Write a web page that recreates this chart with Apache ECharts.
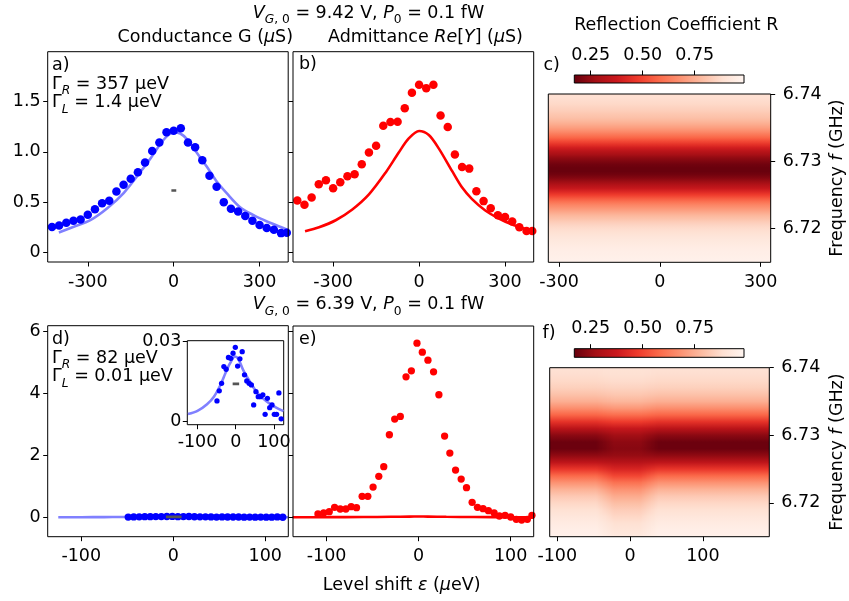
<!DOCTYPE html>
<html><head><meta charset="utf-8">
<script src="https://cdn.jsdelivr.net/npm/echarts@6/dist/echarts.min.js"></script>
<style>html,body{margin:0;padding:0;background:#fff}#c{width:849px;height:601px}</style>
</head><body><div id="c"></div>
<script>
// ---------------- data ----------------
// panels a) and b): level shift grid (ueV)
const epsAB = [-425,-400,-375,-350,-325,-300,-275,-250,-225,-200,-175,-150,-125,-100,-75,-50,-25,0,25,50,75,100,125,150,175,200,225,250,275,300,325,350,375,395];
// a) conductance G (uS)
const gA = [0.252,0.268,0.295,0.315,0.328,0.374,0.430,0.490,0.513,0.606,0.672,0.732,0.798,0.894,1.007,1.093,1.195,1.209,1.235,1.093,1.046,0.917,0.762,0.652,0.500,0.434,0.407,0.361,0.315,0.272,0.242,0.225,0.192,0.195];
// b) admittance Re[Y] (uS)
const reB = [0.517,0.473,0.547,0.677,0.717,0.637,0.697,0.757,0.777,0.877,0.993,1.060,1.260,1.297,1.300,1.433,1.587,1.667,1.633,1.667,1.360,1.247,0.973,0.850,0.833,0.607,0.510,0.440,0.370,0.353,0.307,0.250,0.213,0.213];
// a) fit curve
const fitEpsA = [-401,-349,-291,-233,-174,-116,-81,-47,-23,0,23,47,81,116,151,186,233,279,326,372,401];
const fitGA = [0.199,0.255,0.321,0.437,0.593,0.801,0.934,1.076,1.156,1.192,1.182,1.123,0.990,0.851,0.702,0.586,0.447,0.371,0.308,0.255,0.222];
// b) fit curve
const fitEpsB = [-398,-349,-291,-233,-175,-117,-71,-36,0,34,68,115,149,184,230,277,323,370,398];
const fitReB = [0.210,0.250,0.320,0.427,0.577,0.793,0.993,1.133,1.207,1.167,1.037,0.810,0.650,0.533,0.420,0.340,0.280,0.233,0.207];
// grey resolution dash
const dashEps = [-8, 9];
const dashGA = 0.616;
const dashGD = 0.0139;

// panels d) and e)
const epsD = [-49,-43,-37,-31,-25,-19,-13,-7,-1,5,11,17,23,29,35,41,47,53,59,65,71,77,83,89,95,101,107,113,119];
const gD = [0.0075,0.0113,0.0141,0.0204,0.0194,0.0238,0.0235,0.0254,0.0276,0.0206,0.0233,0.0260,0.0173,0.0150,0.0141,0.0135,0.0060,0.0110,0.0091,0.0091,0.0098,0.0025,0.0085,0.0050,0.0060,0.0025,0.0025,0.0105,0.0008];
const fitEpsD = [-125,-100,-75,-57,-40,-27,-15,-2,7,20,37,54,71,88,106,125];
const fitGD = [0.0026,0.0038,0.0063,0.0091,0.0135,0.0179,0.0216,0.0242,0.0232,0.0190,0.0148,0.0110,0.0085,0.0066,0.0050,0.0037];
const epsE = [-109.4,-103.2,-97.1,-91.3,-85.2,-79.1,-73.3,-67.5,-61.4,-55.2,-49.5,-43.3,-37.9,-31.8,-26,-19.9,-13.7,-7.9,-1.8,4,10.1,16.2,22,28.2,33.9,40.1,46.2,52,58.1,63.9,70,75.8,82,87.7,93.9,100,106.1,111.9,118.1,123.1];
const reE = [0.107,0.140,0.183,0.322,0.269,0.269,0.344,0.311,0.677,0.677,0.977,1.321,1.633,2.664,3.169,3.254,4.533,4.726,5.618,5.328,5.070,4.694,3.953,2.621,2.073,1.525,1.235,0.956,0.483,0.322,0.279,0.215,0.140,0.043,0.064,0.011,-0.064,-0.086,-0.064,0.064];
const fitEpsE = [-137,-100,-60,-30,-10,0,10,30,60,100,125];
const fitReE = [0.003,0.005,0.009,0.017,0.023,0.025,0.023,0.017,0.009,0.005,0.004];

// panel c) reflection coefficient vs frequency (uniform along level shift)
const freqC = [6.7400,6.7395,6.7390,6.7385,6.7380,6.7375,6.7370,6.7365,6.7360,6.7355,6.7350,6.7345,6.7340,6.7335,6.7330,6.7325,6.7320,6.7315,6.7310,6.7305,6.7300,6.7295,6.7290,6.7285,6.7280,6.7275,6.7270,6.7265,6.7260,6.7255,6.7250,6.7245,6.7240,6.7235,6.7230,6.7225,6.7220,6.7215,6.7210,6.7205,6.7200,6.7195,6.7190,6.7185,6.7180,6.7175,6.7170,6.7165,6.7160,6.7155,6.7150];
const rC = [0.885,0.885,0.875,0.865,0.850,0.835,0.815,0.800,0.775,0.745,0.710,0.670,0.620,0.570,0.510,0.450,0.390,0.330,0.280,0.240,0.210,0.185,0.175,0.175,0.190,0.220,0.260,0.310,0.360,0.420,0.480,0.540,0.600,0.650,0.690,0.730,0.770,0.800,0.830,0.855,0.875,0.890,0.905,0.920,0.930,0.940,0.950,0.955,0.960,0.965,0.970];
const cRange = [-332, 330];

// panel f): off-resonance profile (whole width) and the profile seen around zero level shift
const freqF = [6.740,6.739,6.738,6.737,6.736,6.735,6.734,6.733,6.732,6.731,6.730,6.729,6.728,6.727,6.726,6.725,6.724,6.723,6.722,6.721,6.720,6.719,6.718,6.717,6.716,6.715];
const rFSide   = [0.895,0.880,0.865,0.840,0.800,0.750,0.670,0.570,0.450,0.330,0.230,0.180,0.180,0.240,0.340,0.460,0.580,0.680,0.760,0.820,0.860,0.890,0.915,0.940,0.955,0.965];
const rFCenter = [0.900,0.890,0.875,0.850,0.815,0.770,0.695,0.590,0.475,0.360,0.270,0.235,0.225,0.250,0.320,0.410,0.500,0.600,0.680,0.740,0.790,0.830,0.860,0.890,0.910,0.930];
const fRange = [-110.4, 191.3];
const fCenterRange = [-46, 38];

// colour bar range and ticks
const CB_MIN = 0.171, CB_MAX = 0.987;
const cbTicks = [0.25, 0.50, 0.75];
const ticksAB_x = [-300, 0, 300];
const ticksAB_y = [0, 0.5, 1.0, 1.5];
const ticksDE_x = [-100, 0, 100];
const ticksDE_y = [0, 2, 4, 6];
const ticksF_y = [6.72, 6.73, 6.74];
const ticksIn_y = [0, 0.03];

// ---------------- helpers ----------------
const FONT = 'DejaVu Sans';
const FS = 17.5;
const REDS = ['#fff5f0','#fee0d2','#fcbba1','#fc9272','#fb6a4a','#ef3b2c','#cb181d','#a50f15','#67000d'];
function hex2rgb(h){return [parseInt(h.substr(1,2),16),parseInt(h.substr(3,2),16),parseInt(h.substr(5,2),16)];}
const REDS_RGB = REDS.map(hex2rgb);
function cmap(R){
  let t = (R - CB_MIN)/(CB_MAX - CB_MIN); t = Math.max(0, Math.min(1, t));
  const s = (1 - t) * 8; const i = Math.min(7, Math.floor(s)); const u = s - i;
  const a = REDS_RGB[i], b = REDS_RGB[i+1];
  const rgb = [0,1,2].map(k => Math.round(a[k] + (b[k]-a[k])*u));
  return 'rgb(' + rgb.join(',') + ')';
}
function xy(xs, ys){ return xs.map((x,i)=>[x, ys[i]]); }
function fmt1(v){ return v === 0 ? '0' : v.toFixed(1); }
function fmt2(v){ return v === 0 ? '0' : v.toFixed(2); }

function axis(gridIndex, min, max, ticks, formatter, opts){
  opts = opts || {};
  return {
    type: 'value', gridIndex, min, max, z: opts.z || 6,
    show: opts.show !== false,
    position: opts.position,
    axisLine: {show: false, onZero: false},
    splitLine: {show: false},
    axisTick: {show: !!ticks, length: 4.5, customValues: ticks || [], lineStyle: {color: '#000', width: 1}},
    axisLabel: {show: formatter !== null && !!ticks, customValues: ticks || [], margin: opts.margin || 8,
      color: '#000', fontFamily: FONT, fontSize: FS, formatter: formatter || undefined,
      hideOverlap: false}
  };
}

// vertical-gradient column for a frequency profile
function gradRect(api, x0, x1, freqs, prof){
  const fTop = Math.max.apply(null, freqs), fBot = Math.min.apply(null, freqs);
  const a = api.coord([x0, fTop]), b = api.coord([x1, fBot]);
  const stops = freqs.map((f,k)=>({offset: (fTop - f)/(fTop - fBot), color: cmap(prof[k])}))
                     .sort((u,v)=>u.offset - v.offset);
  return {type: 'rect', shape: {x: a[0], y: a[1], width: b[0]-a[0], height: b[1]-a[1]},
          style: {fill: new echarts.graphic.LinearGradient(0,0,0,1, stops)}};
}
function heatC(xi, yi){
  return {type: 'custom', xAxisIndex: xi, yAxisIndex: yi, data: [cRange], z: 1, silent: true,
    encode: {x: [0, 1]},
    renderItem: (p, api) => gradRect(api, api.value(0), api.value(1), freqC, rC)};
}
function heatF(xi, yi){
  return {type: 'custom', xAxisIndex: xi, yAxisIndex: yi,
    data: [[fRange[0], fRange[1], fCenterRange[0], fCenterRange[1]]], z: 1, silent: true,
    encode: {x: [0, 1]},
    renderItem: function(p, api){
      const children = [gradRect(api, api.value(0), api.value(1), freqF, rFSide)];
      const c0 = api.value(2), c1 = api.value(3);
      // soft horizontal edge between the two measured profiles (display smoothing, like image interpolation)
      const K = 14, step = 1.8;
      for (let j = 0; j < K; j++) {
        const w = (j + 1) / K;
        const prof = rFSide.map((s, k) => s + w * (rFCenter[k] - s));
        children.push(gradRect(api, c0 + j*step, c1 - j*step, freqF, prof));
      }
      return {type: 'group', children};
    }};
}
function cbarSeries(xi, yi){
  return {
    type: 'custom', xAxisIndex: xi, yAxisIndex: yi, data: [[CB_MIN, CB_MAX]], z: 1, silent: true,
    encode: {x: [0, 1]},
    renderItem: function(params, api){
      const a = api.coord([api.value(0), 1]), b = api.coord([api.value(1), 0]);
      const stops = REDS.map((c,k)=>({offset: k/8, color: REDS[8-k]}));
      return {type: 'rect', shape: {x: a[0], y: a[1], width: b[0]-a[0], height: b[1]-a[1]},
              style: {fill: new echarts.graphic.LinearGradient(0,0,1,0, stops)}};
    }
  };
}
function fitLine(xi, yi, xs, ys, color, z){
  return {type: 'line', xAxisIndex: xi, yAxisIndex: yi, data: xy(xs, ys), symbol: 'none', smooth: 0.3,
          lineStyle: {color, width: 2.6}, z: z || 2, silent: true, clip: true};
}
function dots(xi, yi, xs, ys, color, size, z){
  return {type: 'scatter', xAxisIndex: xi, yAxisIndex: yi, data: xy(xs, ys), symbolSize: size,
          itemStyle: {color, opacity: 1}, z: z || 3, silent: true, clip: true};
}
function dash(xi, yi, y, z){
  return {type: 'line', xAxisIndex: xi, yAxisIndex: yi, data: [[dashEps[0], y], [dashEps[1], y]], symbol: 'none',
          lineStyle: {color: '#555555', width: 2.6}, z: z || 4, silent: true};
}

const RICH = {
  n: {fontFamily: FONT, fontSize: FS, fill: '#000', lineHeight: 26},
  i: {fontFamily: FONT, fontSize: FS, fontStyle: 'italic', fill: '#000', lineHeight: 26},
  s: {fontFamily: FONT, fontSize: FS*0.7, fill: '#000', lineHeight: 13, verticalAlign: 'bottom'},
  si: {fontFamily: FONT, fontSize: FS*0.7, fontStyle: 'italic', fill: '#000', lineHeight: 13, verticalAlign: 'bottom'}
};
function txt(x, y, str, align, rot){
  return {type: 'text', x, y, z: 20, silent: true, rotation: rot || 0,
          style: {text: str, rich: RICH, align: align || 'left', verticalAlign: 'middle',
                  fontFamily: FONT, fontSize: FS, fill: '#000'}};
}

const gridBase = {show: true, borderColor: '#000', borderWidth: 1, z: 5, containLabel: false};
function G(o){ return Object.assign({}, gridBase, o); }

const option = {
  animation: false,
  backgroundColor: '#fff',
  grid: [
    G({left: 47.7, top: 51.7, width: 240.5, height: 210.3}),      // 0 a
    G({left: 293, top: 51.7, width: 240.7, height: 210.3}),       // 1 b
    G({left: 548.3, top: 94, width: 222.4, height: 168.3}),       // 2 c
    G({left: 574.3, top: 75, width: 169.7, height: 8}),           // 3 colour bar c
    G({left: 47.7, top: 325.7, width: 240.6, height: 211}),       // 4 d
    G({left: 187.3, top: 340.7, width: 96.4, height: 84, backgroundColor: '#fff', z: 8}), // 5 inset
    G({left: 293, top: 326, width: 240.7, height: 210.7}),        // 6 e
    G({left: 549.7, top: 367.7, width: 219.6, height: 169}),      // 7 f
    G({left: 574.3, top: 348.7, width: 169.7, height: 8.6})       // 8 colour bar f
  ],
  xAxis: [
    axis(0, -440, 400, ticksAB_x, undefined, {margin: 11}),
    axis(1, -440, 400, ticksAB_x, undefined, {margin: 11}),
    axis(2, -332, 330, ticksAB_x, undefined, {margin: 11}),
    axis(3, CB_MIN, CB_MAX, cbTicks, v => v.toFixed(2), {position: 'top', margin: 11}),
    axis(4, -136.5, 125, ticksDE_x, undefined, {margin: 11}),
    axis(5, -126.7, 125.6, ticksDE_x, undefined, {margin: 9, z: 9}),
    axis(6, -136.5, 125, ticksDE_x, undefined, {margin: 11}),
    axis(7, -110.4, 191.3, ticksDE_x, undefined, {margin: 11}),
    axis(8, CB_MIN, CB_MAX, cbTicks, v => v.toFixed(2), {position: 'top', margin: 11})
  ],
  yAxis: [
    axis(0, -0.095, 1.995, ticksAB_y, fmt1, {margin: 7}),
    axis(1, -0.095, 1.995, ticksAB_y, null, {}),
    axis(2, 6.715, 6.740, ticksF_y, v => v.toFixed(2), {position: 'right', margin: 12}),
    axis(3, 0, 1, null, null, {show: false}),
    axis(4, -0.625, 6.171, ticksDE_y, v => String(v), {margin: 7}),
    axis(5, -0.0014, 0.0301, ticksIn_y, fmt2, {margin: 6, z: 9}),
    axis(6, -0.625, 6.171, ticksDE_y, null, {}),
    axis(7, 6.715, 6.740, ticksF_y, v => v.toFixed(2), {position: 'right', margin: 12}),
    axis(8, 0, 1, null, null, {show: false})
  ],
  series: [
    // a
    fitLine(0, 0, fitEpsA, fitGA, '#8080ff', 2),
    dots(0, 0, epsAB, gA, '#0000ff', 8.5, 3),
    dash(0, 0, dashGA, 4),
    // b
    dots(1, 1, epsAB, reB, '#ff0000', 8.5, 3),
    fitLine(1, 1, fitEpsB, fitReB, '#ff0000', 4),
    // c
    heatC(2, 2),
    cbarSeries(3, 3),
    // d main
    fitLine(4, 4, fitEpsD, fitGD, '#8080ff', 2),
    dots(4, 4, epsD, gD, '#0000ff', 7.3, 3),
    dash(4, 4, dashGD, 4),
    // inset
    fitLine(5, 5, fitEpsD, fitGD, '#8080ff', 9),
    dots(5, 5, epsD, gD, '#0000ff', 5.3, 10),
    dash(5, 5, dashGD, 11),
    // e
    dots(6, 6, epsE, reE, '#ff0000', 7.3, 3),
    fitLine(6, 6, fitEpsE, fitReE, '#ff0000', 4),
    // f
    heatF(7, 7),
    cbarSeries(8, 8)
  ],
  graphic: [
    txt(368.5, 13, '{i|V}{si|G}{s|, 0}{n| = 9.42 V, }{i|P}{s|0}{n| = 0.1 fW}', 'center'),
    txt(205.3, 37, '{n|Conductance G (}{i|μ}{n|S)}', 'center'),
    txt(425.5, 37, '{n|Admittance }{i|Re}{n|[}{i|Y}{n|] (}{i|μ}{n|S)}', 'center'),
    txt(676.3, 25.5, 'Reflection Coefficient R', 'center'),
    txt(543.5, 65.5, 'c)', 'left'),
    txt(837.5, 178, '{n|Frequency }{i|f}{n| (GHz)}', 'center', Math.PI/2),
    txt(52, 65, 'a)', 'left'),
    txt(52, 84, '{n|Γ}{si|R}{n| = 357 μeV}', 'left'),
    txt(52, 102.5, '{n|Γ}{si|L}{n| = 1.4 μeV}', 'left'),
    txt(299, 64, 'b)', 'left'),
    txt(368.5, 304.5, '{i|V}{si|G}{s|, 0}{n| = 6.39 V, }{i|P}{s|0}{n| = 0.1 fW}', 'center'),
    txt(52, 339, 'd)', 'left'),
    txt(52, 358, '{n|Γ}{si|R}{n| = 82 μeV}', 'left'),
    txt(52, 376.5, '{n|Γ}{si|L}{n| = 0.01 μeV}', 'left'),
    txt(299, 339, 'e)', 'left'),
    txt(542.5, 333, 'f)', 'left'),
    txt(837.5, 452, '{n|Frequency }{i|f}{n| (GHz)}', 'center', Math.PI/2),
    txt(401.7, 585.5, '{n|Level shift }{i|ε}{n| (}{i|μ}{n|eV)}', 'center')
  ]
};
const chart = echarts.init(document.getElementById('c'), null, {renderer: 'canvas'});
chart.setOption(option);
</script></body></html>
